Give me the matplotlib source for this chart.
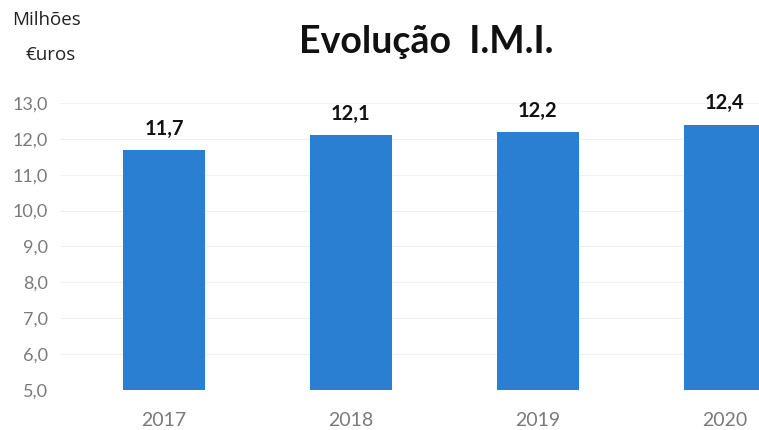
import matplotlib.pyplot as plt

anos = ["2017", "2018", "2019", "2020"]
imi = [11.7, 12.1, 12.2, 12.4]
rotulos = ["11,7", "12,1", "12,2", "12,4"]
yticks = [5, 6, 7, 8, 9, 10, 11, 12, 13]

plt.rcParams['font.family'] = ['Lato', 'DejaVu Sans']

fig = plt.figure(figsize=(7.59, 4.30), dpi=100)
ax = fig.add_axes([60/759, 40/430, 699/759, 287/430])

x = list(range(len(anos)))
ax.bar(x, [v - 5 for v in imi], bottom=5, width=0.44, color='#2b7fd3', zorder=2)

for xi, v, r in zip(x, imi, rotulos):
    ax.annotate(r, (xi, v), xytext=(0, 8), textcoords='offset points',
                ha='center', va='bottom', fontsize=14.5, fontweight='bold', color='#111111')

ax.set_xlim(-0.556, 3.182)
ax.set_ylim(5, 13)
ax.set_yticks(yticks)
ax.set_yticklabels([f"{t:.1f}".replace('.', ',') for t in yticks], fontsize=13)
ax.set_xticks(x)
ax.set_xticklabels(anos, fontsize=14)
ax.tick_params(axis='both', length=0, labelcolor='#7a7a7a')
ax.tick_params(axis='y', pad=9)
ax.tick_params(axis='x', pad=16)
ax.grid(axis='y', color='#f0f0f0', linewidth=0.8, zorder=0)
for s in ax.spines.values():
    s.set_visible(False)

fig.text(426/759, 1 - 42/430, "Evolução  I.M.I.", ha='center', va='center',
         fontsize=27, fontweight='bold', color='#111111')
fig.text(47/759, 1 - 20/430, "Milhões", ha='center', va='center', fontsize=13.5,
         color='#222222', family=['Open Sans', 'DejaVu Sans'])
fig.text(51/759, 1 - 55/430, "€uros", ha='center', va='center', fontsize=13.5,
         color='#222222', family=['Open Sans', 'DejaVu Sans'])

fig.savefig("out.png", dpi=100)
